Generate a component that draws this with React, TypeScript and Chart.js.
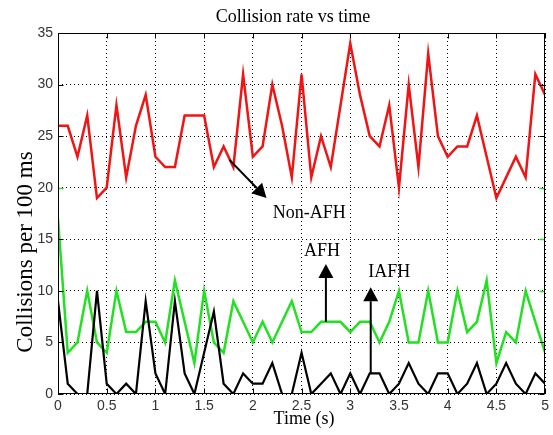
import React, { useEffect, useRef } from "react";
import { Chart, registerables } from "chart.js";

Chart.register(...registerables);

// ---- data ----
const TIME = [
  0, 0.1, 0.2, 0.3, 0.4, 0.5, 0.6, 0.7, 0.8, 0.9,
  1, 1.1, 1.2, 1.3, 1.4, 1.5, 1.6, 1.7, 1.8, 1.9,
  2, 2.1, 2.2, 2.3, 2.4, 2.5, 2.6, 2.7, 2.8, 2.9,
  3, 3.1, 3.2, 3.3, 3.4, 3.5, 3.6, 3.7, 3.8, 3.9,
  4, 4.1, 4.2, 4.3, 4.4, 4.5, 4.6, 4.7, 4.8, 4.9, 5,
];
const NON_AFH = [
  26, 26, 23, 27, 19, 20, 28, 21, 26, 29, 23, 22, 22, 27, 27, 27, 22,
  24, 22, 31, 23, 24, 30, 26, 21, 31, 21, 25, 22, 28, 34, 29, 25, 24,
  28, 20, 30, 22, 33, 25, 23, 24, 24, 27, 23, 19, 21, 23, 21, 31, 29,
];
const AFH = [
  17, 4, 5, 10, 5, 4, 10, 6, 6, 7, 7, 5, 11, 7, 3, 10, 5,
  4, 9, 7, 5, 7, 5, 7, 9, 6, 6, 7, 7, 7, 6, 7, 7, 5,
  7, 10, 5, 5, 10, 5, 5, 10, 6, 7, 11, 3, 6, 5, 10, 7, 4,
];
const IAFH = [
  9, 1, 0, 0, 10, 1, 0, 1, 0, 9, 2, 0, 9, 2, 0, 4, 8,
  1, 0, 2, 1, 1, 3, 0, 0, 4, 0, 1, 2, 0, 2, 0, 2, 2,
  0, 1, 3, 1, 0, 2, 2, 0, 1, 3, 0, 1, 3, 1, 0, 2, 1,
];

const TITLE = "Collision rate vs time";
const X_LABEL = "Time (s)";
const Y_LABEL = "Collisions per 100 ms";

// stray green tick marks seen on the frame
const GREEN_TICKS_RIGHT = [10, 15, 20];
const GREEN_TICKS_LEFT = [20];

// annotations (data units)
const ANNOT_TEXT = ["Non-AFH", "AFH", "IAFH"];
const ANNOT_FROM_X = [1.76, 2.75, 3.21];
const ANNOT_FROM_Y = [22.7, 7, 2];
const ANNOT_TO_X = [2.14, 2.75, 3.21];
const ANNOT_TO_Y = [19.0, 12.6, 10.35];
const ANNOT_TEXT_X = [2.58, 2.71, 3.4];
const ANNOT_TEXT_Y = [17.5, 13.8, 11.8];

const SERIF = "'Liberation Serif', 'Times New Roman', serif";
const SANS = "'Liberation Sans', Arial, sans-serif";

const framePlugin = {
  id: "frame",
  afterDatasetsDraw(chart: any) {
    const { ctx, chartArea: a, scales } = chart;
    const xs = scales.x;
    const ys = scales.y;
    const L = Math.round(a.left) + 0.5;
    const R = Math.round(a.right) - 0.5;
    const T = Math.round(a.top) + 0.5;
    const B = Math.round(a.bottom) - 0.5;
    const tl = 5;
    ctx.save();
    ctx.setLineDash([]);
    // green stray ticks
    ctx.strokeStyle = "#22e022";
    ctx.lineWidth = 1.5;
    ctx.beginPath();
    GREEN_TICKS_RIGHT.forEach((v) => {
      const py = Math.round(ys.getPixelForValue(v)) + 0.5;
      ctx.moveTo(R, py);
      ctx.lineTo(R - tl, py);
    });
    GREEN_TICKS_LEFT.forEach((v) => {
      const py = Math.round(ys.getPixelForValue(v)) + 0.5;
      ctx.moveTo(L, py);
      ctx.lineTo(L + tl, py);
    });
    ctx.stroke();

    ctx.strokeStyle = "#000";
    ctx.lineWidth = 1;
    ctx.strokeRect(L, T, R - L, B - T);
    ctx.beginPath();
    xs.ticks.forEach((t: any) => {
      const px = Math.round(xs.getPixelForValue(t.value)) + 0.5;
      ctx.moveTo(px, B);
      ctx.lineTo(px, B - tl);
      ctx.moveTo(px, T);
      ctx.lineTo(px, T + tl);
    });
    ys.ticks.forEach((t: any) => {
      const v = t.value;
      const py = Math.round(ys.getPixelForValue(v)) + 0.5;
      if (!GREEN_TICKS_LEFT.includes(v)) {
        ctx.moveTo(L, py);
        ctx.lineTo(L + tl, py);
      }
      if (!GREEN_TICKS_RIGHT.includes(v)) {
        ctx.moveTo(R, py);
        ctx.lineTo(R - tl, py);
      }
    });
    ctx.stroke();

    // annotations
    ctx.fillStyle = "#000";
    ctx.strokeStyle = "#000";
    ctx.lineWidth = 2;
    for (let i = 0; i < ANNOT_TEXT.length; i++) {
      const x1 = xs.getPixelForValue(ANNOT_FROM_X[i]);
      const y1 = ys.getPixelForValue(ANNOT_FROM_Y[i]);
      const x2 = xs.getPixelForValue(ANNOT_TO_X[i]);
      const y2 = ys.getPixelForValue(ANNOT_TO_Y[i]);
      const ang = Math.atan2(y2 - y1, x2 - x1);
      const hl = 14;
      const hw = 7.5;
      const bx = x2 - hl * Math.cos(ang);
      const by = y2 - hl * Math.sin(ang);
      ctx.beginPath();
      ctx.moveTo(x1, y1);
      ctx.lineTo(bx, by);
      ctx.stroke();
      ctx.beginPath();
      ctx.moveTo(x2, y2);
      ctx.lineTo(bx + hw * Math.sin(ang), by - hw * Math.cos(ang));
      ctx.lineTo(bx - hw * Math.sin(ang), by + hw * Math.cos(ang));
      ctx.closePath();
      ctx.fill();
      ctx.font = `18px ${SERIF}`;
      ctx.textAlign = "center";
      ctx.textBaseline = "middle";
      ctx.fillText(
        ANNOT_TEXT[i],
        xs.getPixelForValue(ANNOT_TEXT_X[i]),
        ys.getPixelForValue(ANNOT_TEXT_Y[i])
      );
    }

    // title & axis labels
    ctx.font = `18px ${SERIF}`;
    ctx.textAlign = "center";
    ctx.textBaseline = "alphabetic";
    ctx.fillText(TITLE, 293, 22);
    ctx.fillText(X_LABEL, 304, 424);
    ctx.save();
    ctx.translate(32, 252);
    ctx.rotate(-Math.PI / 2);
    ctx.font = `23px ${SERIF}`;
    ctx.fillText(Y_LABEL, 0, 0);
    ctx.restore();
    ctx.restore();
  },
};

export default function App() {
  const ref = useRef<HTMLCanvasElement | null>(null);
  useEffect(() => {
    if (!ref.current) return;
    const mk = (ys: number[]) => TIME.map((t, i) => ({ x: t, y: ys[i] }));
    const tickFont = { family: SANS, size: 14 };
    const chart = new Chart(ref.current, {
      type: "line",
      data: {
        datasets: [
          { label: "IAFH", data: mk(IAFH), borderColor: "#000000", borderWidth: 2.2 },
          { label: "AFH", data: mk(AFH), borderColor: "#22e022", borderWidth: 2.5 },
          { label: "Non-AFH", data: mk(NON_AFH), borderColor: "#f01414", borderWidth: 2.5 },
        ].map((d) => ({ ...d, pointRadius: 0, tension: 0, fill: false })),
      },
      options: {
        responsive: false,
        animation: false,
        layout: { padding: { left: 0, right: 6, top: 33, bottom: 0 } },
        plugins: {
          legend: { display: false },
          tooltip: { enabled: false },
          title: { display: false },
        },
        scales: {
          x: {
            type: "linear",
            min: 0,
            max: 5,
            ticks: {
              stepSize: 0.5,
              padding: 4,
              color: "#333",
              font: tickFont,
              maxRotation: 0,
              autoSkip: false,
              callback: (v: any) => `${Math.round(Number(v) * 10) / 10}`,
            },
            grid: { color: "#000", lineWidth: 1, drawTicks: false },
            border: { display: false, dash: [1, 3] },
            afterFit: (s: any) => {
              s.height = 41;
            },
          },
          y: {
            type: "linear",
            min: 0,
            max: 35,
            ticks: { stepSize: 5, padding: 5, color: "#333", font: tickFont },
            grid: { color: "#000", lineWidth: 1, drawTicks: false },
            border: { display: false, dash: [1, 3] },
            afterFit: (s: any) => {
              s.width = 58;
            },
          },
        },
      } as any,
      plugins: [framePlugin],
    });
    return () => chart.destroy();
  }, []);
  return (
    <div style={{ position: "absolute", left: 0, top: 0, width: 553, height: 435, background: "#fff" }}>
      <canvas ref={ref} width={553} height={435} style={{ display: "block" }} />
    </div>
  );
}
